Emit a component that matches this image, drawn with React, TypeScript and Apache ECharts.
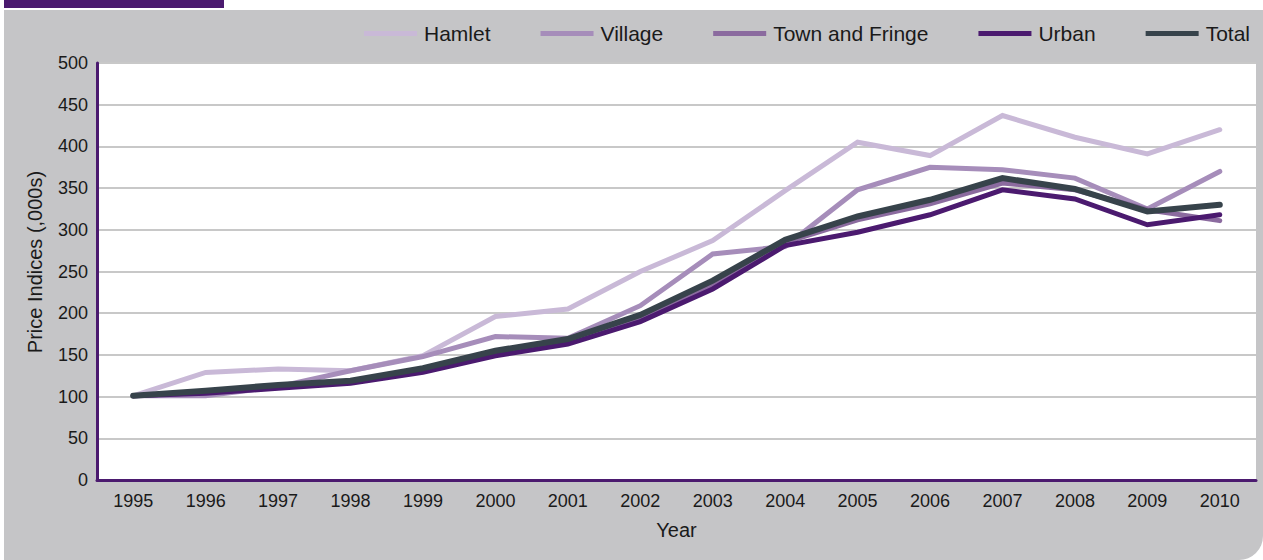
import React, { useEffect, useRef } from "react";
import * as echarts from "echarts";

// Price index by settlement type, 1995 = 100
const years = [
  "1995", "1996", "1997", "1998", "1999", "2000", "2001", "2002",
  "2003", "2004", "2005", "2006", "2007", "2008", "2009", "2010",
];
const hamlet = [101, 129, 133, 131, 149, 196, 205, 250, 287, 347, 405, 389, 437, 411, 391, 420];
const village = [101, 101, 112, 131, 148, 172, 170, 209, 271, 280, 348, 375, 372, 362, 325, 370];
const townAndFringe = [101, 105, 112, 117, 132, 152, 166, 195, 234, 285, 312, 331, 356, 348, 324, 311];
const urban = [101, 104, 110, 116, 129, 149, 163, 190, 229, 281, 297, 318, 348, 337, 306, 318];
const total = [101, 107, 114, 119, 134, 155, 169, 198, 239, 288, 316, 336, 362, 349, 322, 330];

const seriesNames = ["Hamlet", "Village", "Town and Fringe", "Urban", "Total"];
const seriesData = [hamlet, village, townAndFringe, urban, total];
const seriesColors = ["#c9b9d7", "#a68dba", "#8b6b9f", "#4b1a6f", "#37434b"];
const seriesWidths = [5, 5, 5, 5, 6];

const FONT = "'Liberation Sans', Arial, Helvetica, sans-serif";
const PURPLE = "#4b1a6f";

export default function App() {
  const ref = useRef<HTMLDivElement>(null);

  useEffect(() => {
    document.body.style.margin = "0";
    if (!ref.current) return;
    const chart = echarts.init(ref.current, undefined, { renderer: "svg" });

    chart.setOption({
      animation: false,
      backgroundColor: "#ffffff",
      textStyle: { fontFamily: FONT, color: "#1a1a1a" },
      graphic: [
        {
          type: "rect",
          z: -10,
          silent: true,
          shape: { x: 4, y: 10, width: 1259, height: 550, r: [0, 0, 24, 0] },
          style: { fill: "#c5c5c7" },
        },
        {
          type: "rect",
          z: -10,
          silent: true,
          shape: { x: 4, y: 0, width: 220, height: 8 },
          style: { fill: PURPLE },
        },
        {
          type: "text",
          x: 35,
          y: 262,
          rotation: Math.PI / 2,
          style: {
            text: "Price Indices (,000s)",
            font: `20px ${FONT}`,
            fill: "#1a1a1a",
            align: "center",
            verticalAlign: "middle",
          },
        },
      ],
      legend: {
        right: 8,
        top: 18,
        icon: "rect",
        itemWidth: 53,
        itemHeight: 5,
        itemGap: 50,
        data: seriesNames,
        textStyle: { fontFamily: FONT, fontSize: 21, color: "#1a1a1a", padding: [0, 0, 0, 2] },
      },
      grid: {
        left: 97,
        right: 7,
        top: 63,
        bottom: 80,
        show: true,
        backgroundColor: "#ffffff",
        borderWidth: 0,
      },
      xAxis: {
        type: "category",
        data: years,
        boundaryGap: true,
        name: "Year",
        nameLocation: "middle",
        nameGap: 40,
        nameTextStyle: { fontFamily: FONT, fontSize: 20, color: "#1a1a1a" },
        axisLine: { show: true, lineStyle: { color: PURPLE, width: 3 } },
        axisTick: { show: false },
        axisLabel: { fontFamily: FONT, fontSize: 18, color: "#1a1a1a", margin: 12 },
        splitLine: { show: false },
      },
      yAxis: {
        type: "value",
        min: 0,
        max: 500,
        interval: 50,
        axisLine: { show: true, lineStyle: { color: PURPLE, width: 3 } },
        axisTick: { show: false },
        axisLabel: { fontFamily: FONT, fontSize: 18, color: "#1a1a1a", margin: 9 },
        splitLine: { show: true, lineStyle: { color: "#c8c8c8", width: 2 } },
      },
      series: seriesNames.map((name, i) => ({
        name,
        type: "line",
        data: seriesData[i],
        symbol: "none",
        color: seriesColors[i],
        lineStyle: { color: seriesColors[i], width: seriesWidths[i], cap: "round", join: "miter" },
        z: 2 + i,
      })),
    });

    return () => chart.dispose();
  }, []);

  return (
    <div
      ref={ref}
      style={{ position: "absolute", left: 0, top: 0, width: 1263, height: 560 }}
    />
  );
}
